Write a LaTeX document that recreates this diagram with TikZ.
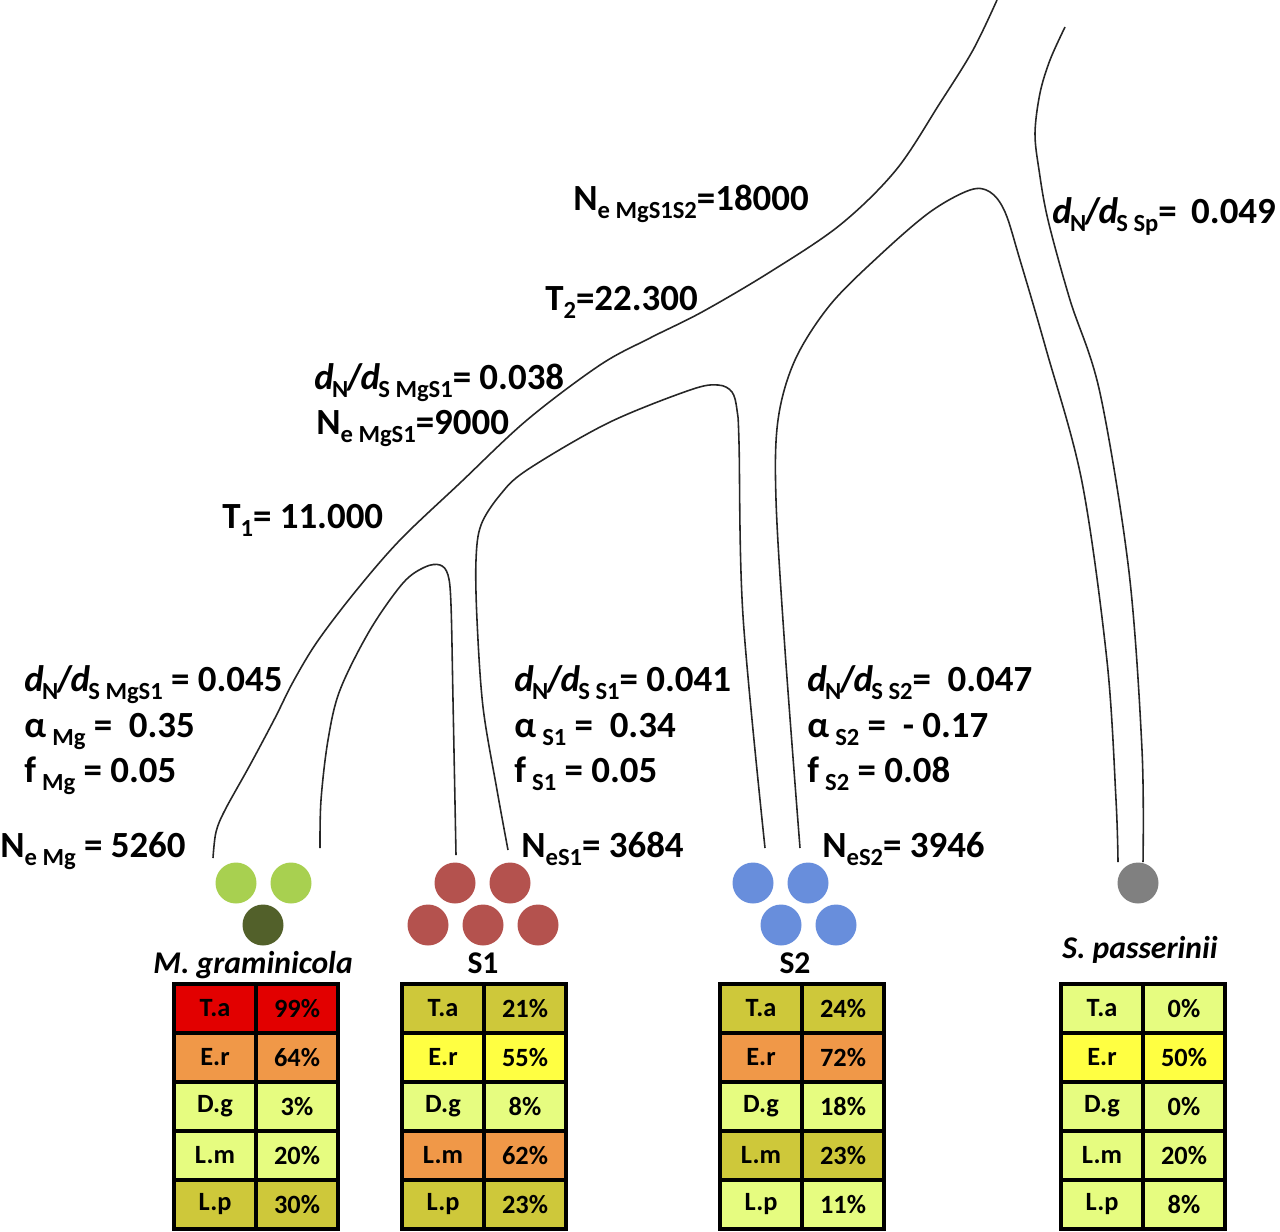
\documentclass[tikz,border=0pt]{standalone}
\usepackage{fontspec}
\setmainfont{Carlito}
\definecolor{cred}{RGB}{226,0,0}
\definecolor{corange}{RGB}{240,152,72}
\definecolor{cyellow}{RGB}{255,255,66}
\definecolor{clight}{RGB}{230,252,128}
\definecolor{colive}{RGB}{206,200,58}
\definecolor{mglight}{RGB}{168,208,80}
\definecolor{mgdark}{RGB}{82,96,42}
\definecolor{sonered}{RGB}{180,82,78}
\definecolor{stwoblue}{RGB}{104,142,220}
\definecolor{spgray}{RGB}{128,128,128}
\newcommand{\lo}[1]{\raisebox{-5pt}{\fontsize{14}{14}\selectfont #1}}
\newcommand{\dnds}[1]{\textit{d}\kern-1pt\lo{N}\kern-1pt/\kern-1pt\textit{d}\kern-1pt\lo{S #1}}

\begin{document}
\begin{tikzpicture}[
      x=0.02cm, y=-0.02cm,
      tree/.style={line width=0.9pt, black!85},
      lbl/.style={anchor=base west, inner sep=0pt, font=\fontsize{21}{25}\selectfont\bfseries},
      species/.style={anchor=base, inner sep=0pt, font=\fontsize{18}{20}\selectfont\bfseries},
      spname/.style={species, font=\fontsize{18}{20}\selectfont\bfseries\itshape},
      cell/.style={draw, line width=1.8pt, minimum width=1.64cm, minimum height=0.98cm, inner sep=0pt, font=\fontsize{15}{17}\selectfont\bfseries},
      dot/.style={circle, minimum size=0.82cm, inner sep=0pt}
    ]
      \useasboundingbox (0,0) rectangle (1280,1231);

      % Tree outlines
      \draw[tree] plot[smooth, tension=0.55] coordinates {(213,858) (216,832) (225,810) (250,765) (275,718) (293,682) (317,642) (355,592) (400,540) (460,483) (527,420) (600,365) (650,338) (702,312) (770,272) (840,225) (896,170) (940,103) (973,50) (997,0)};
      \draw[tree] plot[smooth, tension=0.55] coordinates {(320,848) (321,800) (328,740) (340,690) (370,630) (403,583) (425,567) (440,565) (448,575) (451,605) (453,700) (456,855)};
      \draw[tree] plot[smooth, tension=0.55] coordinates {(508,850) (497,790) (483,707) (477,620) (476,560) (481,525) (500,495) (527,470) (608,423) (690,390) (718,385) (732,392) (737,410) (739,443) (743,616) (765,848)};
      \draw[tree] plot[smooth, tension=0.55] coordinates {(800,848) (785,650) (776,500) (778,420) (795,360) (830,305) (880,255) (930,212) (970,190) (990,192) (1005,212) (1020,260) (1046,349) (1082,482) (1107,661) (1116,800) (1118,862)};
      \draw[tree] plot[smooth, tension=0.55] coordinates {(1065,27) (1050,60) (1040,93) (1035,133) (1039,170) (1048,220) (1070,300) (1100,393) (1129,572) (1142,750) (1143,862)};

      % Branch labels
      \node[lbl] (neall) at (573,210) {N\lo{e MgS1S2}=18000};
      \node[lbl] (ttwo) at (545,310) {T\lo{2}=22.300};
      \node[lbl] (dnmgsone) at (314,389) {\dnds{MgS1}= 0.038};
      \node[lbl] (nemgsone) at (316,434) {N\lo{e MgS1}=9000};
      \node[lbl] (tone) at (222,528) {T\lo{1}= 11.000};
      \node[lbl] (dnsp) at (1052,223) {\dnds{Sp}= \,0.049};

      % Tip labels
      \node[lbl] (dnmg) at (24,691) {\dnds{MgS1} = 0.045};
      \node[lbl] (amg) at (24,737) {α\,\lo{Mg} = ~0.35};
      \node[lbl] (fmg) at (24,782) {f\,\lo{Mg} = 0.05};
      \node[lbl] (nemg) at (0,857) {N\lo{e Mg} = 5260};
      \node[lbl] (dnsone) at (514,691) {\dnds{S1}= 0.041};
      \node[lbl] (asone) at (514,737) {α\,\lo{S1} = ~0.34};
      \node[lbl] (fsone) at (514,782) {f\,\lo{S1} = 0.05};
      \node[lbl] (nesone) at (521,857) {N\lo{eS1}= 3684};
      \node[lbl] (dnstwo) at (807,691) {\dnds{S2}= ~0.047};
      \node[lbl] (astwo) at (807,737) {α\,\lo{S2} = ~- 0.17};
      \node[lbl] (fstwo) at (807,782) {f\,\lo{S2} = 0.08};
      \node[lbl] (nestwo) at (822,857) {N\lo{eS2}= 3946};

      % Isolates
      \node[dot, fill=mglight] (mg1) at (236,883) {};
      \node[dot, fill=mglight] (mg2) at (291,883) {};
      \node[dot, fill=mgdark] (mg3) at (263,925) {};
      \node[dot, fill=sonered] (sone1) at (455,883) {};
      \node[dot, fill=sonered] (sone2) at (510,883) {};
      \node[dot, fill=sonered] (sone3) at (428,925) {};
      \node[dot, fill=sonered] (sone4) at (483,925) {};
      \node[dot, fill=sonered] (sone5) at (538,925) {};
      \node[dot, fill=stwoblue] (stwo1) at (753,883) {};
      \node[dot, fill=stwoblue] (stwo2) at (808,883) {};
      \node[dot, fill=stwoblue] (stwo3) at (781,925) {};
      \node[dot, fill=stwoblue] (stwo4) at (836,925) {};
      \node[dot, fill=spgray] (sp1) at (1138,883) {};

      % Species names
      \node[spname] (mgname) at (253,973) {M. graminicola};
      \node[species] (sonename) at (483,973) {S1};
      \node[species] (stwoname) at (795,973) {S2};
      \node[spname] (spname) at (1140,958) {S. passerinii};

      % Host tables
      \foreach \lab/\col/\val [count=\r] in {T.a/cred/99\%, E.r/corange/64\%, D.g/clight/3\%, L.m/clight/20\%, L.p/colive/30\%}{
        \node[cell, fill=\col] (mg-\r-a) at (215, 959.5+49*\r) {\lab};
        \node[cell, fill=\col] (mg-\r-b) at (297, 959.5+49*\r) {\val};
      }
      \foreach \lab/\col/\val [count=\r] in {T.a/colive/21\%, E.r/cyellow/55\%, D.g/clight/8\%, L.m/corange/62\%, L.p/colive/23\%}{
        \node[cell, fill=\col] (sone-\r-a) at (443, 959.5+49*\r) {\lab};
        \node[cell, fill=\col] (sone-\r-b) at (525, 959.5+49*\r) {\val};
      }
      \foreach \lab/\col/\val [count=\r] in {T.a/colive/24\%, E.r/corange/72\%, D.g/clight/18\%, L.m/colive/23\%, L.p/clight/11\%}{
        \node[cell, fill=\col] (stwo-\r-a) at (761, 959.5+49*\r) {\lab};
        \node[cell, fill=\col] (stwo-\r-b) at (843, 959.5+49*\r) {\val};
      }
      \foreach \lab/\col/\val [count=\r] in {T.a/clight/0\%, E.r/cyellow/50\%, D.g/clight/0\%, L.m/clight/20\%, L.p/clight/8\%}{
        \node[cell, fill=\col] (sp-\r-a) at (1102, 959.5+49*\r) {\lab};
        \node[cell, fill=\col] (sp-\r-b) at (1184, 959.5+49*\r) {\val};
      }
    \end{tikzpicture}
\end{document}
